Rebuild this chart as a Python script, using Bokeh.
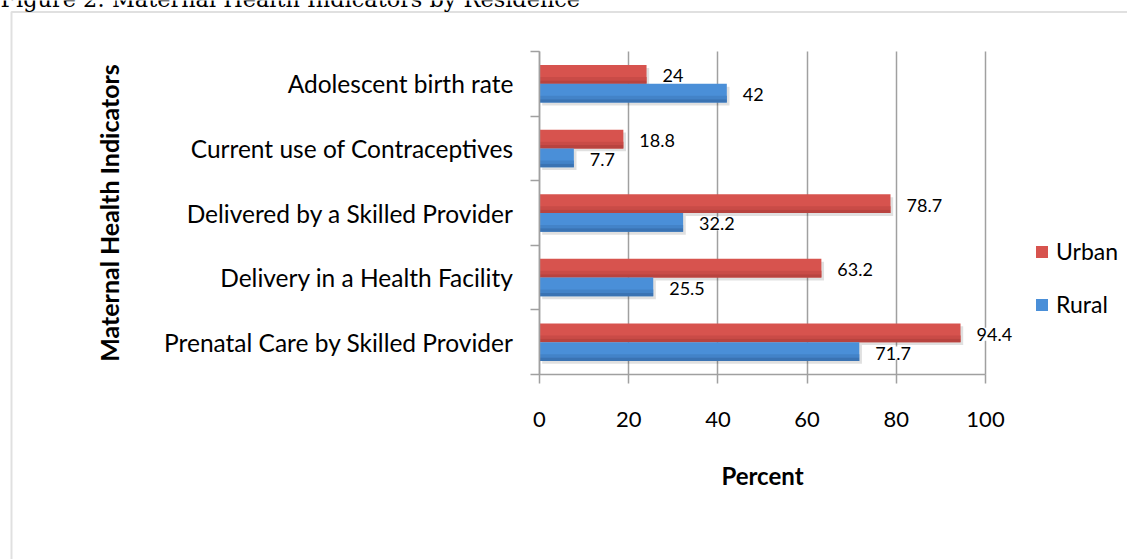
from bokeh.plotting import figure
from bokeh.models import (Range1d, FixedTicker, Label, LabelSet, ColumnDataSource,
                          Legend, LegendItem, BoxAnnotation)
from bokeh.transform import dodge
from bokeh.embed import file_html
from bokeh.resources import INLINE
from bokeh.core.properties import value

# ---------------- data ----------------
categories = ["Adolescent birth rate", "Current use of Contraceptives",
              "Delivered by a Skilled Provider", "Delivery in a Health Facility",
              "Prenatal Care by Skilled Provider"]
urban = [24, 18.8, 78.7, 63.2, 94.4]
rural = [42, 7.7, 32.2, 25.5, 71.7]
series_names = ["Urban", "Rural"]
x_ticks = [0, 20, 40, 60, 80, 100]
title_text = "Figure 2: Maternal Health Indicators by Residence"
y_title = "Maternal Health Indicators"
x_title = "Percent"

# ---------------- style / layout ----------------
RED_SHADES = ["#d7534e", "#c94b47", "#b8433f"]
BLUE_SHADES = ["#4a8fd8", "#4383c8", "#3a73b3"]
GRAY = "#a0a0a0"
FONT = "Lato"
W, H = 1127, 559
PL, PR, PT, PB = 539, 985, 51, 374      # plot-area edges in pixels
XMIN, XMAX = x_ticks[0], x_ticks[-1]

n = len(categories)
centers = [n - i - 0.5 for i in range(n)]
kx = (PR - PL) / (XMAX - XMIN)
ky = (PB - PT) / n

src = ColumnDataSource(dict(
    cat=categories, yc=centers, urban=urban, rural=rural,
    urban_txt=[str(v) for v in urban], rural_txt=[str(v) for v in rural],
))

p = figure(width=W, height=H,
           x_range=Range1d(XMIN - PL / kx, XMAX + (W - PR) / kx),
           y_range=Range1d(-(H - PB) / ky, n + PT / ky),
           output_backend="svg", toolbar_location=None,
           min_border_left=0, min_border_right=0, min_border_top=0, min_border_bottom=0,
           styles={"position": "absolute", "left": "0px", "top": "0px"})
p.outline_line_color = None
p.background_fill_color = "white"
p.border_fill_color = "white"

# axes
xa = p.xaxis[0]
xa.fixed_location = 0
xa.bounds = (XMIN, XMAX)
xa.ticker = FixedTicker(ticks=x_ticks)
xa.axis_line_color = GRAY
xa.axis_line_width = 1.5
xa.major_tick_line_color = GRAY
xa.major_tick_line_width = 1.5
xa.major_tick_out = 9
xa.major_tick_in = 0
xa.minor_tick_line_color = None
xa.major_label_text_font = FONT
xa.major_label_text_font_size = "22px"
xa.major_label_text_color = "black"
xa.major_label_standoff = 28
xa.axis_label = x_title
xa.axis_label_text_font = FONT
xa.axis_label_text_font_style = "bold"
xa.axis_label_text_font_size = "24px"
xa.axis_label_text_color = "black"
xa.axis_label_standoff = 31

ya = p.yaxis[0]
ya.fixed_location = 0
ya.bounds = (0, n)
ya.ticker = FixedTicker(ticks=centers, minor_ticks=list(range(n + 1)))
ya.major_label_overrides = {c: lab for c, lab in zip(centers, categories)}
ya.axis_line_color = GRAY
ya.axis_line_width = 1.5
ya.major_tick_out = 0
ya.major_tick_in = 0
ya.major_tick_line_color = None
ya.minor_tick_line_color = GRAY
ya.minor_tick_line_width = 1.5
ya.minor_tick_out = 9
ya.minor_tick_in = 0
ya.major_label_text_font = FONT
ya.major_label_text_font_size = "24.5px"
ya.major_label_text_color = "black"
ya.major_label_standoff = 17
ya.axis_label = y_title
ya.axis_label_text_font = FONT
ya.axis_label_text_font_style = "bold"
ya.axis_label_text_font_size = "25px"
ya.axis_label_text_color = "black"
ya.axis_label_standoff = 37

p.ygrid.grid_line_color = None
p.xgrid.grid_line_color = GRAY
p.xgrid.grid_line_width = 1.5
p.xgrid.bounds = (XMIN, XMAX)
p.xgrid.cross_bounds = (0, n)

# bars (soft shadow first, then bar, then darker lower strips for a gradient look)
BH = 0.29
OFF = 0.145
for col, off in (("urban", OFF), ("rural", -OFF)):
    p.hbar(y=dodge("yc", off - 0.045, range=p.y_range), left=0.6,
           right=dodge(col, 0.6, range=p.x_range), height=BH,
           fill_color="black", fill_alpha=0.12, line_color=None, source=src)

main = {}
for col, off, shades in (("urban", OFF, RED_SHADES), ("rural", -OFF, BLUE_SHADES)):
    main[col] = p.hbar(y=dodge("yc", off, range=p.y_range), left=0, right=col, height=BH,
                       fill_color=shades[0], line_color=None, source=src)
    sh = BH * 0.18
    for k, shade in enumerate(shades[1:]):
        p.hbar(y=dodge("yc", off - BH / 2 + sh * (len(shades) - 1 - k) - sh / 2, range=p.y_range),
               left=0, right=col, height=sh, fill_color=shade, line_color=None, source=src)

for col, txt, off in (("urban", "urban_txt", OFF), ("rural", "rural_txt", -OFF)):
    p.add_layout(LabelSet(x=col, y=dodge("yc", off, range=p.y_range), text=txt, source=src,
                          x_offset=16, y_offset=-1.5, text_baseline="middle", text_align="left",
                          text_font=value(FONT), text_font_size="18px", text_color="black",
                          background_fill_color="white"))

legend = Legend(items=[LegendItem(label=series_names[0], renderers=[main["urban"]]),
                       LegendItem(label=series_names[1], renderers=[main["rural"]])],
                location=(1034, H - 318), border_line_color=None, background_fill_alpha=0,
                padding=0, margin=0, spacing=25, glyph_width=15, glyph_height=15,
                label_standoff=7, label_text_font=FONT, label_text_font_size="23px",
                label_text_color="black")
p.add_layout(legend)

# outer border and (cropped) caption
p.add_layout(BoxAnnotation(left=11, right=W + 20, top=H - 11.5, bottom=-20,
                           left_units="screen", right_units="screen",
                           top_units="screen", bottom_units="screen",
                           fill_color=None, line_color="#999999", line_width=2))
p.add_layout(Label(x=0, y=H + 2, x_units="screen", y_units="screen", text=title_text,
                   text_font="DejaVu Serif", text_font_size="22.4px",
                   text_baseline="alphabetic", text_color="black"))

open("out.html", "w").write(file_html(p, INLINE))
